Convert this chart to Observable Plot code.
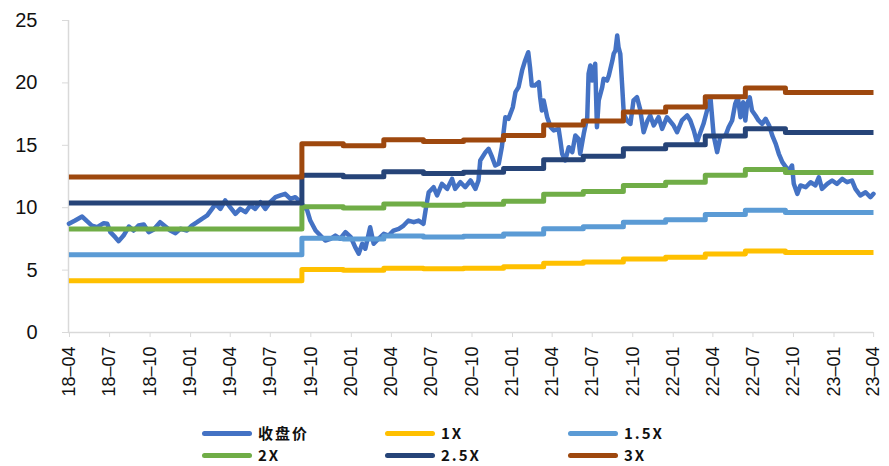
<!DOCTYPE html>
<html>
<head>
<meta charset="utf-8">
<script src="https://cdn.jsdelivr.net/npm/d3@7"></script>
<script src="https://cdn.jsdelivr.net/npm/@observablehq/plot@0.6"></script>
<style>
  body { margin: 0; background: #fff; }
  #wrap { width: 889px; position: relative; }
  #legend {
    display: grid;
    grid-template-columns: 183px 183px 183px;
    grid-auto-rows: 22px;
    padding-left: 202px;
    padding-top: 7px;
    font-family: "Noto Sans CJK SC", "Liberation Sans", sans-serif;
    font-weight: bold;
    font-size: 15px;
    color: #111;
  }
  .item { display: flex; align-items: center; height: 22px; }
  .sw { width: 50px; height: 5px; border-radius: 3px; margin-right: 6px; flex: none; }
  .lb { letter-spacing: 2px; line-height: 22px; }
</style>
</head>
<body>
<div id="wrap">
  <div id="chart"></div>
  <div id="legend"></div>
</div>
<script>
// Closing price samples
const priceDates = [
  "2018-04-02","2018-04-16","2018-05-02","2018-05-13","2018-05-24","2018-06-05","2018-06-20","2018-06-28",
  "2018-07-05","2018-07-16","2018-07-24","2018-08-04","2018-08-16","2018-08-27","2018-09-07","2018-09-19",
  "2018-09-30","2018-10-11","2018-10-26","2018-11-07","2018-11-18","2018-11-30","2018-12-11","2018-12-26",
  "2019-01-06","2019-01-18","2019-01-29","2019-02-10","2019-02-21","2019-03-01","2019-03-12","2019-03-23",
  "2019-04-03","2019-04-15","2019-04-26","2019-05-08","2019-05-19","2019-05-30","2019-06-11","2019-06-22",
  "2019-07-03","2019-07-15","2019-07-26","2019-08-06","2019-08-18","2019-08-29","2019-09-06","2019-09-13",
  "2019-09-25","2019-10-02","2019-10-14","2019-10-25","2019-11-05","2019-11-17","2019-11-28","2019-12-09",
  "2019-12-21","2020-01-02","2020-01-12","2020-01-20","2020-01-28","2020-02-04","2020-02-15","2020-02-23",
  "2020-03-05","2020-03-17","2020-03-28","2020-04-08","2020-04-20","2020-05-01","2020-05-12","2020-05-24",
  "2020-06-04","2020-06-15","2020-06-21","2020-06-27","2020-07-08","2020-07-16","2020-07-27","2020-08-08",
  "2020-08-19","2020-08-26","2020-09-07","2020-09-18","2020-09-30","2020-10-11","2020-10-18","2020-10-22",
  "2020-11-03","2020-11-10","2020-11-18","2020-11-25","2020-12-03","2020-12-10","2020-12-18","2020-12-25",
  "2021-01-04","2021-01-10","2021-01-17","2021-01-25","2021-02-01","2021-02-08","2021-02-12","2021-02-16",
  "2021-02-23","2021-03-04","2021-03-07","2021-03-11","2021-03-15","2021-03-23","2021-03-31","2021-04-07",
  "2021-04-18","2021-04-22","2021-04-26","2021-05-03","2021-05-11","2021-05-19","2021-05-26","2021-06-02",
  "2021-06-06","2021-06-14","2021-06-22","2021-06-25","2021-06-29","2021-07-03","2021-07-10","2021-07-14",
  "2021-07-18","2021-07-26","2021-07-29","2021-08-06","2021-08-10","2021-08-18","2021-08-21","2021-08-25",
  "2021-08-29","2021-09-01","2021-09-05","2021-09-09","2021-09-13","2021-09-20","2021-09-28","2021-10-05",
  "2021-10-13","2021-10-20","2021-10-28","2021-11-05","2021-11-12","2021-11-20","2021-12-01","2021-12-09",
  "2021-12-20","2022-01-04","2022-01-12","2022-01-23","2022-02-04","2022-02-11","2022-02-19","2022-02-26",
  "2022-03-06","2022-03-13","2022-03-21","2022-03-29","2022-04-05","2022-04-13","2022-04-20","2022-05-02",
  "2022-05-09","2022-05-17","2022-05-24","2022-05-30","2022-06-05","2022-06-11","2022-06-16","2022-06-20",
  "2022-06-26","2022-07-01","2022-07-09","2022-07-16","2022-07-24","2022-08-01","2022-08-09","2022-08-16",
  "2022-08-24","2022-08-31","2022-09-08","2022-09-16","2022-09-23","2022-09-30","2022-10-04","2022-10-12",
  "2022-10-19","2022-10-31","2022-11-11","2022-11-22","2022-11-30","2022-12-07","2022-12-19","2022-12-30",
  "2023-01-10","2023-01-22","2023-02-02","2023-02-13","2023-02-21","2023-03-04","2023-03-16","2023-03-27",
  "2023-04-03"
];
const priceValues = [
  8.71, 8.97, 9.29, 8.92, 8.57, 8.44, 8.76, 8.71,
  8.04, 7.64, 7.32, 7.77, 8.49, 8.17, 8.57, 8.65,
  8.04, 8.23, 8.84, 8.49, 8.17, 7.96, 8.31, 8.17,
  8.57, 8.84, 9.11, 9.38, 9.91, 10.31, 9.91, 10.58,
  10.04, 9.51, 9.91, 9.64, 10.18, 9.91, 10.44, 9.91,
  10.44, 10.84, 10.98, 11.11, 10.71, 10.84, 10.58, 10.31,
  9.78, 8.97, 8.17, 7.77, 7.37, 7.51, 7.77, 7.51,
  8.04, 7.64, 6.84, 6.31, 7.11, 6.71, 8.44, 7.11,
  7.51, 7.91, 7.77, 8.17, 8.31, 8.57, 8.97, 8.84,
  8.97, 8.71, 10.04, 11.24, 11.64, 10.98, 11.91, 11.51,
  12.31, 11.51, 12.04, 11.64, 12.18, 11.51, 12.18, 13.78,
  14.45, 14.72, 14.05, 13.38, 13.52, 14.85, 17.25, 17.12,
  18.05, 19.26, 19.66, 21.0, 21.8, 22.46, 21.26, 19.79,
  19.79, 20.06, 18.85, 17.79, 18.59, 17.25, 16.45, 16.19,
  16.32, 15.38, 14.32, 13.78, 14.85, 14.45, 15.79, 15.52,
  14.32, 15.92, 17.25, 20.73, 21.39, 20.19, 21.53, 16.45,
  18.59, 19.66, 20.33, 20.19, 20.59, 21.79, 22.33, 22.6,
  23.8, 22.86, 22.33, 19.93, 17.52, 16.99, 16.72, 18.59,
  18.85, 17.9, 16.05, 16.9, 17.39, 16.59, 17.25, 16.32,
  17.25, 16.59, 16.05, 16.99, 17.39, 16.99, 16.19, 15.25,
  16.05, 16.72, 17.79, 18.73, 15.79, 14.45, 15.65, 15.79,
  16.45, 16.99, 18.32, 18.85, 17.25, 18.45, 16.99, 18.32,
  18.85, 17.79, 17.39, 16.99, 16.72, 17.12, 16.59, 15.79,
  15.12, 14.32, 13.65, 13.25, 12.98, 13.38, 11.91, 11.11,
  11.78, 11.64, 12.04, 11.78, 12.44, 11.51, 11.91, 12.18,
  11.91, 12.31, 12.04, 12.18, 11.51, 10.98, 11.24, 10.84,
  11.11
];

// Valuation bands: each value holds from its date until the next one
const bandDates = [
  "2018-04-02","2019-09-13","2019-12-16","2020-03-17","2020-06-15","2020-09-14","2020-12-14",
  "2021-03-15","2021-06-13","2021-09-12","2021-12-17","2022-03-17","2022-06-16","2022-09-15"
];
const bandEnd = "2023-04-03";
const band1x  = [4.15, 5.04, 4.99, 5.15, 5.10, 5.14, 5.26, 5.54, 5.65, 5.89, 6.02, 6.30, 6.53, 6.41];
const band15x = [6.23, 7.56, 7.49, 7.73, 7.65, 7.71, 7.89, 8.31, 8.48, 8.84, 9.03, 9.45, 9.80, 9.62];
const band2x  = [8.30, 10.08, 9.98, 10.30, 10.20, 10.28, 10.52, 11.08, 11.30, 11.78, 12.04, 12.60, 13.06, 12.82];
const band25x = [10.38, 12.60, 12.48, 12.88, 12.75, 12.85, 13.15, 13.85, 14.13, 14.73, 15.05, 15.75, 16.33, 16.03];
const band3x  = [12.45, 15.12, 14.97, 15.45, 15.30, 15.42, 15.78, 16.62, 16.95, 17.67, 18.06, 18.90, 19.59, 19.23];

const seriesNames  = ["收盘价", "1X", "1.5X", "2X", "2.5X", "3X"];
const seriesColors = ["#4472C4", "#FFC000", "#5B9BD5", "#70AD47", "#264478", "#9E480E"];

const xTicks = [
  "2018-04-01","2018-07-01","2018-10-01","2019-01-01","2019-04-01","2019-07-01","2019-10-01",
  "2020-01-01","2020-04-01","2020-07-01","2020-10-01","2021-01-01","2021-04-01","2021-07-01",
  "2021-10-01","2022-01-01","2022-04-01","2022-07-01","2022-10-01","2023-01-01","2023-04-01"
];
const yTicks = [0, 5, 10, 15, 20, 25];

const parse = d3.utcParse("%Y-%m-%d");

const price = priceDates.map((d, i) => ({date: parse(d), value: priceValues[i]}));

const bandSeries = [band1x, band15x, band2x, band25x, band3x];
const bands = bandSeries.map((vals, k) => {
  const rows = bandDates.map((d, i) => ({date: parse(d), value: vals[i], name: seriesNames[k + 1]}));
  rows.push({date: parse(bandEnd), value: vals[vals.length - 1], name: seriesNames[k + 1]});
  return rows;
});

const axisGray = "#d9d9d9";
const xDomain = [parse("2018-04-01"), parse(bandEnd)];

const chart = Plot.plot({
  width: 889,
  height: 415,
  marginLeft: 68,
  marginRight: 16,
  marginTop: 20,
  marginBottom: 83,
  style: {fontFamily: "'Liberation Sans', Arial, sans-serif", color: "#111", background: "#fff"},
  x: {type: "utc", domain: xDomain},
  y: {domain: [0, 25]},
  marks: [
    // axis lines
    Plot.ruleY([0], {x1: xDomain[0], x2: xDomain[1], stroke: axisGray, strokeWidth: 1.5}),
    Plot.ruleX([xDomain[0]], {y1: 0, y2: 25, stroke: axisGray, strokeWidth: 1.5}),
    Plot.axisY({
      ticks: yTicks, tickSize: 6, tickPadding: 25, fontSize: 20,
      stroke: axisGray, fill: "#111", label: null
    }),
    Plot.axisX({
      ticks: xTicks.map(parse), tickFormat: d3.utcFormat("%y–%m"),
      tickRotate: -90, tickSize: 5, tickPadding: 9, fontSize: 18, dx: 1,
      stroke: axisGray, fill: "#111", label: null
    }),
    // closing price
    Plot.line(price, {
      x: "date", y: "value", stroke: seriesColors[0], strokeWidth: 4.5,
      strokeLinejoin: "round", strokeLinecap: "round"
    }),
    // multiple bands drawn above the price
    ...bands.map((rows, k) => Plot.line(rows, {
      x: "date", y: "value", curve: "step-after",
      stroke: seriesColors[k + 1], strokeWidth: 5,
      strokeLinejoin: "round", strokeLinecap: "butt"
    }))
  ]
});
document.getElementById("chart").appendChild(chart);

// legend in two rows of three
const legend = d3.select("#legend");
seriesNames.forEach((name, i) => {
  const item = legend.append("div").attr("class", "item");
  item.append("div").attr("class", "sw").style("background", seriesColors[i]);
  item.append("span").attr("class", "lb").text(name);
});
</script>
</body>
</html>
